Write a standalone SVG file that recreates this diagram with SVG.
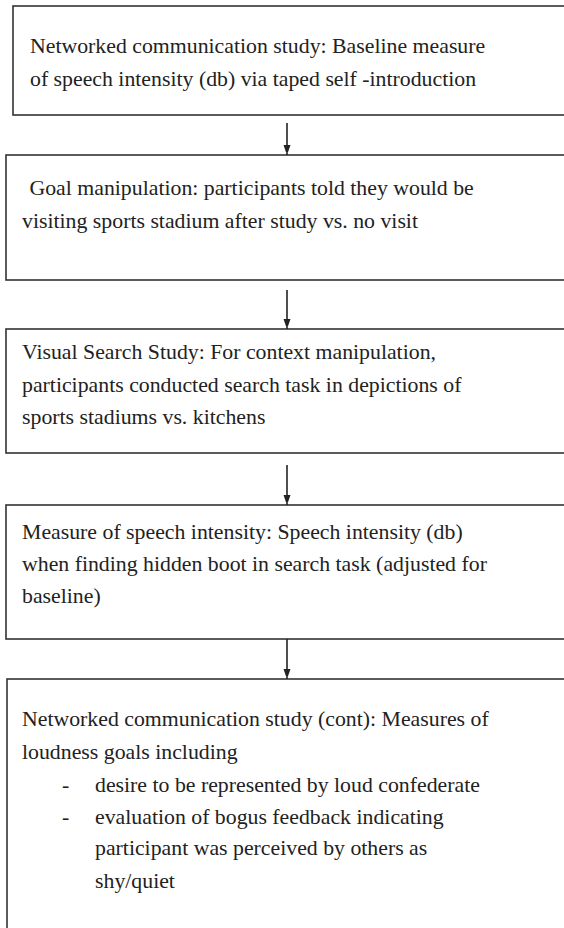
<svg xmlns="http://www.w3.org/2000/svg" width="564" height="928" viewBox="0 0 564 928">
<style>
.box{fill:#fff;stroke:#333;stroke-width:1.6}
.t{font-family:"Liberation Serif","Times New Roman",serif;font-size:21.8px;fill:#222}
.c{stroke:#222;stroke-width:1.6;fill:none}
</style>
<defs>
<marker id="ah" markerWidth="7" markerHeight="10" refX="10" refY="3.5" orient="auto" markerUnits="userSpaceOnUse">
<path d="M0,0 L10,3.5 L0,7 Z" fill="#222"/>
</marker>
</defs>
<rect width="564" height="928" fill="#fff"/>
<g id="n1">
<rect class="box" x="13" y="6" width="570" height="109"/>
<text class="t" x="30" y="53">Networked communication study: Baseline measure</text>
<text class="t" x="30" y="86">of speech intensity (db) via taped self -introduction</text>
</g>
<g id="n2">
<rect class="box" x="6" y="155" width="580" height="125"/>
<text class="t" x="24" y="195" xml:space="preserve"> Goal manipulation: participants told they would be</text>
<text class="t" x="22" y="228">visiting sports stadium after study vs. no visit</text>
</g>
<g id="n3">
<rect class="box" x="6" y="329" width="580" height="124"/>
<text class="t" x="22" y="359">Visual Search Study: For context manipulation,</text>
<text class="t" x="22" y="392">participants conducted search task in depictions of</text>
<text class="t" x="22" y="424">sports stadiums vs. kitchens</text>
</g>
<g id="n4">
<rect class="box" x="6" y="505" width="580" height="134"/>
<text class="t" x="22" y="539">Measure of speech intensity: Speech intensity (db)</text>
<text class="t" x="22" y="571">when finding hidden boot in search task (adjusted for</text>
<text class="t" x="22" y="603">baseline)</text>
</g>
<g id="n5">
<rect class="box" x="7" y="679" width="580" height="280"/>
<text class="t" x="22" y="726">Networked communication study (cont): Measures of</text>
<text class="t" x="22" y="759">loudness goals including</text>
<text class="t" x="62" y="792">-</text>
<text class="t" x="95" y="792">desire to be represented by loud confederate</text>
<text class="t" x="62" y="824">-</text>
<text class="t" x="95" y="824">evaluation of bogus feedback indicating</text>
<text class="t" x="95" y="855">participant was perceived by others as</text>
<text class="t" x="95" y="888">shy/quiet</text>
</g>
<g id="connectors">
<line class="c" x1="287" y1="123" x2="287" y2="155" marker-end="url(#ah)"/>
<line class="c" x1="287" y1="290" x2="287" y2="329" marker-end="url(#ah)"/>
<line class="c" x1="287" y1="465" x2="287" y2="505" marker-end="url(#ah)"/>
<line class="c" x1="287" y1="639" x2="287" y2="679" marker-end="url(#ah)"/>
</g>
</svg>
